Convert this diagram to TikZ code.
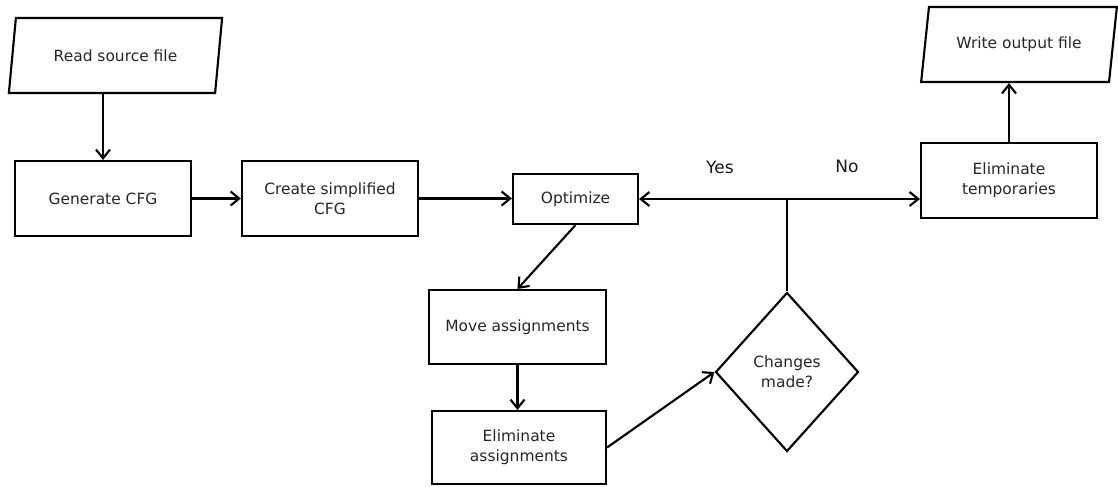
\documentclass[tikz,border=0pt]{standalone}
\usepackage{fontspec}
\setmainfont{DejaVu Sans}
\usetikzlibrary{shapes.geometric,arrows.meta}

\begin{document}
\begin{tikzpicture}[x=0.75pt, y=-0.75pt,
    >={Straight Barb[length=6.5pt,width=10.5pt]},
    line width=1.6pt,
    process/.style={
        rectangle,
        draw,
        inner sep=0pt,
        minimum width=132pt,
        minimum height=56.25pt,
        font=\fontsize{11.6}{15}\selectfont,
        text=black!85,
        align=center
    },
    io/.style={
        trapezium,
        trapezium left angle=70,
        trapezium right angle=110,
        trapezium stretches=true,
        draw,
        inner sep=0pt,
        minimum height=56.25pt,
        font=\fontsize{11.6}{15}\selectfont,
        text=black!85
    },
    decision/.style={
        diamond,
        draw,
        inner sep=0pt,
        minimum width=107.25pt,
        minimum height=119.25pt,
        font=\fontsize{11.6}{15}\selectfont,
        text=black!85,
        align=center
    },
    branch/.style={
        font=\fontsize{12.8}{15}\selectfont,
        text=black!90
    }
]
\useasboundingbox (0,0) rectangle (1118,486);

% Input and output
\node[io, minimum width=161.25pt] (read) at (115.5,55.5) {Read source file};
\node[io, minimum width=147pt] (write) at (1019,44.5) {Write output file};

% Steps
\node[process] (gen) at (103,198.5) {Generate CFG};
\node[process] (simp) at (330,198.5) {Create simplified\\CFG};
\node[process, minimum width=93.75pt, minimum height=37.5pt] (opt) at (575.5,199) {Optimize};
\node[process, minimum width=132.75pt, minimum height=55.5pt] (move) at (517.5,327) {Move assignments};
\node[process, minimum width=130.5pt, minimum height=54.75pt] (elima) at (519,447.5) {Eliminate\\assignments};
\node[decision] (changed) at (787,372) {Changes\\made?};
\node[process] (elimt) at (1009,180.5) {Eliminate\\temporaries};

% Branch labels
\node[branch] (yes) at (720,167) {Yes};
\node[branch] (no) at (847,166) {No};

% Arrows
\coordinate (split) at (changed.north |- opt.east);
\draw[->] (gen.north |- read.south) -- (gen.north);
\draw[->] (gen) -- (simp);
\draw[->] (simp.east) -- (simp.east -| opt.west);
\draw[->] (opt.south) -- (move.north);
\draw[->] (move.south) -- (move.south |- elima.north);
\draw[->] (elima.east) -- (changed.west);
\draw (changed.north) -- (split);
\draw[->] (split) -- (opt.east);
\draw[->] (split) -- (split -| elimt.west);
\draw[->] (elimt.north) -- (elimt.north |- write.south);

\end{tikzpicture}
\end{document}
